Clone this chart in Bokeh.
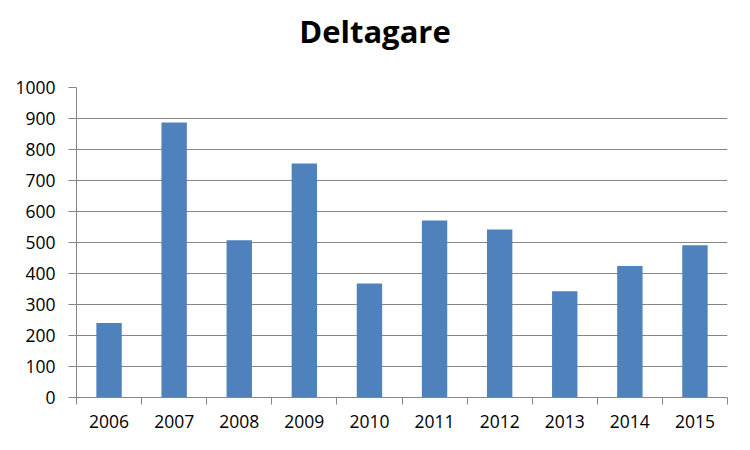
from bokeh.plotting import figure
from bokeh.models import FixedTicker, Range1d, Div
from bokeh.layouts import column
from bokeh.embed import file_html
from bokeh.resources import INLINE
import numpy as np

title_text = "Deltagare"
years = ["2006", "2007", "2008", "2009", "2010", "2011", "2012", "2013", "2014", "2015"]
values = [240, 887, 507, 755, 368, 571, 542, 343, 424, 491]
y_ticks = [0, 100, 200, 300, 400, 500, 600, 700, 800, 900, 1000]

idx = list(range(len(years)))
bounds = [i - 0.5 for i in range(len(years) + 1)]

W = 750
TITLE_H = 67

header = Div(text=title_text, width=W, height=TITLE_H, margin=0,
             styles={"font-family": "'Open Sans'", "font-weight": "bold", "font-size": "31px",
                     "color": "black", "text-align": "center", "padding-top": "10px",
                     "box-sizing": "border-box", "background-color": "white",
                     "width": "750px", "line-height": "normal"})

p = figure(width=W, height=450 - TITLE_H, output_backend="svg", toolbar_location=None,
           x_range=Range1d(-0.5, len(years) - 0.5), y_range=Range1d(0, 1000),
           min_border_left=76, min_border_right=23, min_border_top=20, min_border_bottom=53)
p.outline_line_color = None
p.background_fill_color = "white"
p.border_fill_color = "white"

p.vbar(x=idx, top=values, width=0.39, bottom=0, fill_color="#4F81BD", line_color=None)

grid_color = "#868686"
p.xgrid.visible = False
p.ygrid.ticker = FixedTicker(ticks=y_ticks)
p.ygrid.grid_line_color = grid_color
p.ygrid.grid_line_width = 1

ya = p.yaxis[0]
ya.ticker = FixedTicker(ticks=y_ticks)
ya.axis_line_color = grid_color
ya.major_tick_line_color = grid_color
ya.major_tick_out = 8
ya.major_tick_in = 0
ya.minor_tick_line_color = None
ya.major_label_text_font = "Open Sans"
ya.major_label_text_font_size = "17.5px"
ya.major_label_text_color = "black"
ya.major_label_standoff = 13

xa = p.xaxis[0]
xa.ticker = FixedTicker(ticks=idx, minor_ticks=bounds)
xa.major_label_overrides = {i: y for i, y in zip(idx, years)}
xa.axis_line_color = grid_color
xa.major_tick_line_color = None
xa.minor_tick_line_color = grid_color
xa.minor_tick_out = 7
xa.minor_tick_in = 0
xa.major_label_text_font = "Open Sans"
xa.major_label_text_font_size = "17.5px"
xa.major_label_text_color = "black"
xa.major_label_standoff = 10

page = column(header, p, spacing=0, margin=0)
open("out.html", "w").write(file_html(page, INLINE))
